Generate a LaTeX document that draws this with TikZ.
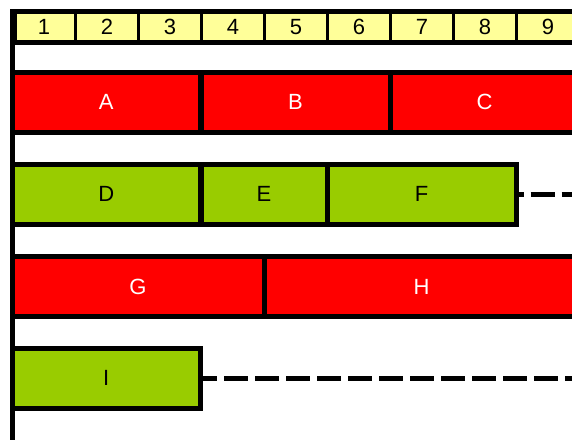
\documentclass[tikz,border=0pt]{standalone}
\usepackage{fontspec}
\setmainfont{Liberation Sans}
\usepackage{tikz}
\definecolor{barred}{RGB}{255,0,0}
\definecolor{bargreen}{RGB}{153,204,0}
\definecolor{cellyellow}{RGB}{255,255,153}

\begin{document}
\begin{tikzpicture}[x=0.5pt, y=-0.5pt,
        font=\fontsize{11}{13}\selectfont,
        numcell/.style={draw, fill=cellyellow, line width=1.5pt, minimum width=31.5pt, minimum height=15.25pt, inner sep=0pt},
        redbar/.style={draw, fill=barred, text=white, line width=2.5pt, minimum height=30pt, inner sep=0pt},
        greenbar/.style={draw, fill=bargreen, text=black, line width=2.5pt, minimum height=30pt, inner sep=0pt},
        openend/.style={line width=2.5pt, dash pattern=on 12pt off 3.5pt}]
        \clip (0,0) rectangle (572,439);
        % number row
        \foreach \n in {1,...,9}
            \node[numcell] (n\n) at ({44+63*(\n-1)},26.75) {\n};
        \node[draw, line width=2.5pt, minimum width=300pt, minimum height=15.25pt, inner sep=0pt, anchor=west] (numrow) at (12,26.75) {};
        % bars
        \node[redbar, minimum width=94.25pt] (A) at (106.25,102) {A};
        \node[redbar, minimum width=94.5pt] (B) at (295.5,102) {B};
        \node[redbar, minimum width=94.5pt] (C) at (484.5,102) {C};
        \node[greenbar, minimum width=94.25pt] (D) at (106.25,194) {D};
        \node[greenbar, minimum width=63pt] (E) at (264,194) {E};
        \node[greenbar, minimum width=94.5pt] (F) at (421.5,194) {F};
        \node[redbar, minimum width=126pt] (G) at (138,286.5) {G};
        \node[redbar, minimum width=157.5pt] (H) at (421.5,286.5) {H};
        \node[greenbar, minimum width=94.25pt] (I) at (106.25,378) {I};
        % open ends
        \coordinate (fend) at (580,194);
        \coordinate (iend) at (580,378);
        \draw[openend, dash phase=9.5pt] (F.east) -- (fend);
        \draw[openend, dash phase=5pt] (I.east) -- (iend);
        % time axis
        \coordinate (axbot) at (12,445);
        \draw[line width=2.5pt] (numrow.north west) -- (axbot);
    \end{tikzpicture}
\end{document}
